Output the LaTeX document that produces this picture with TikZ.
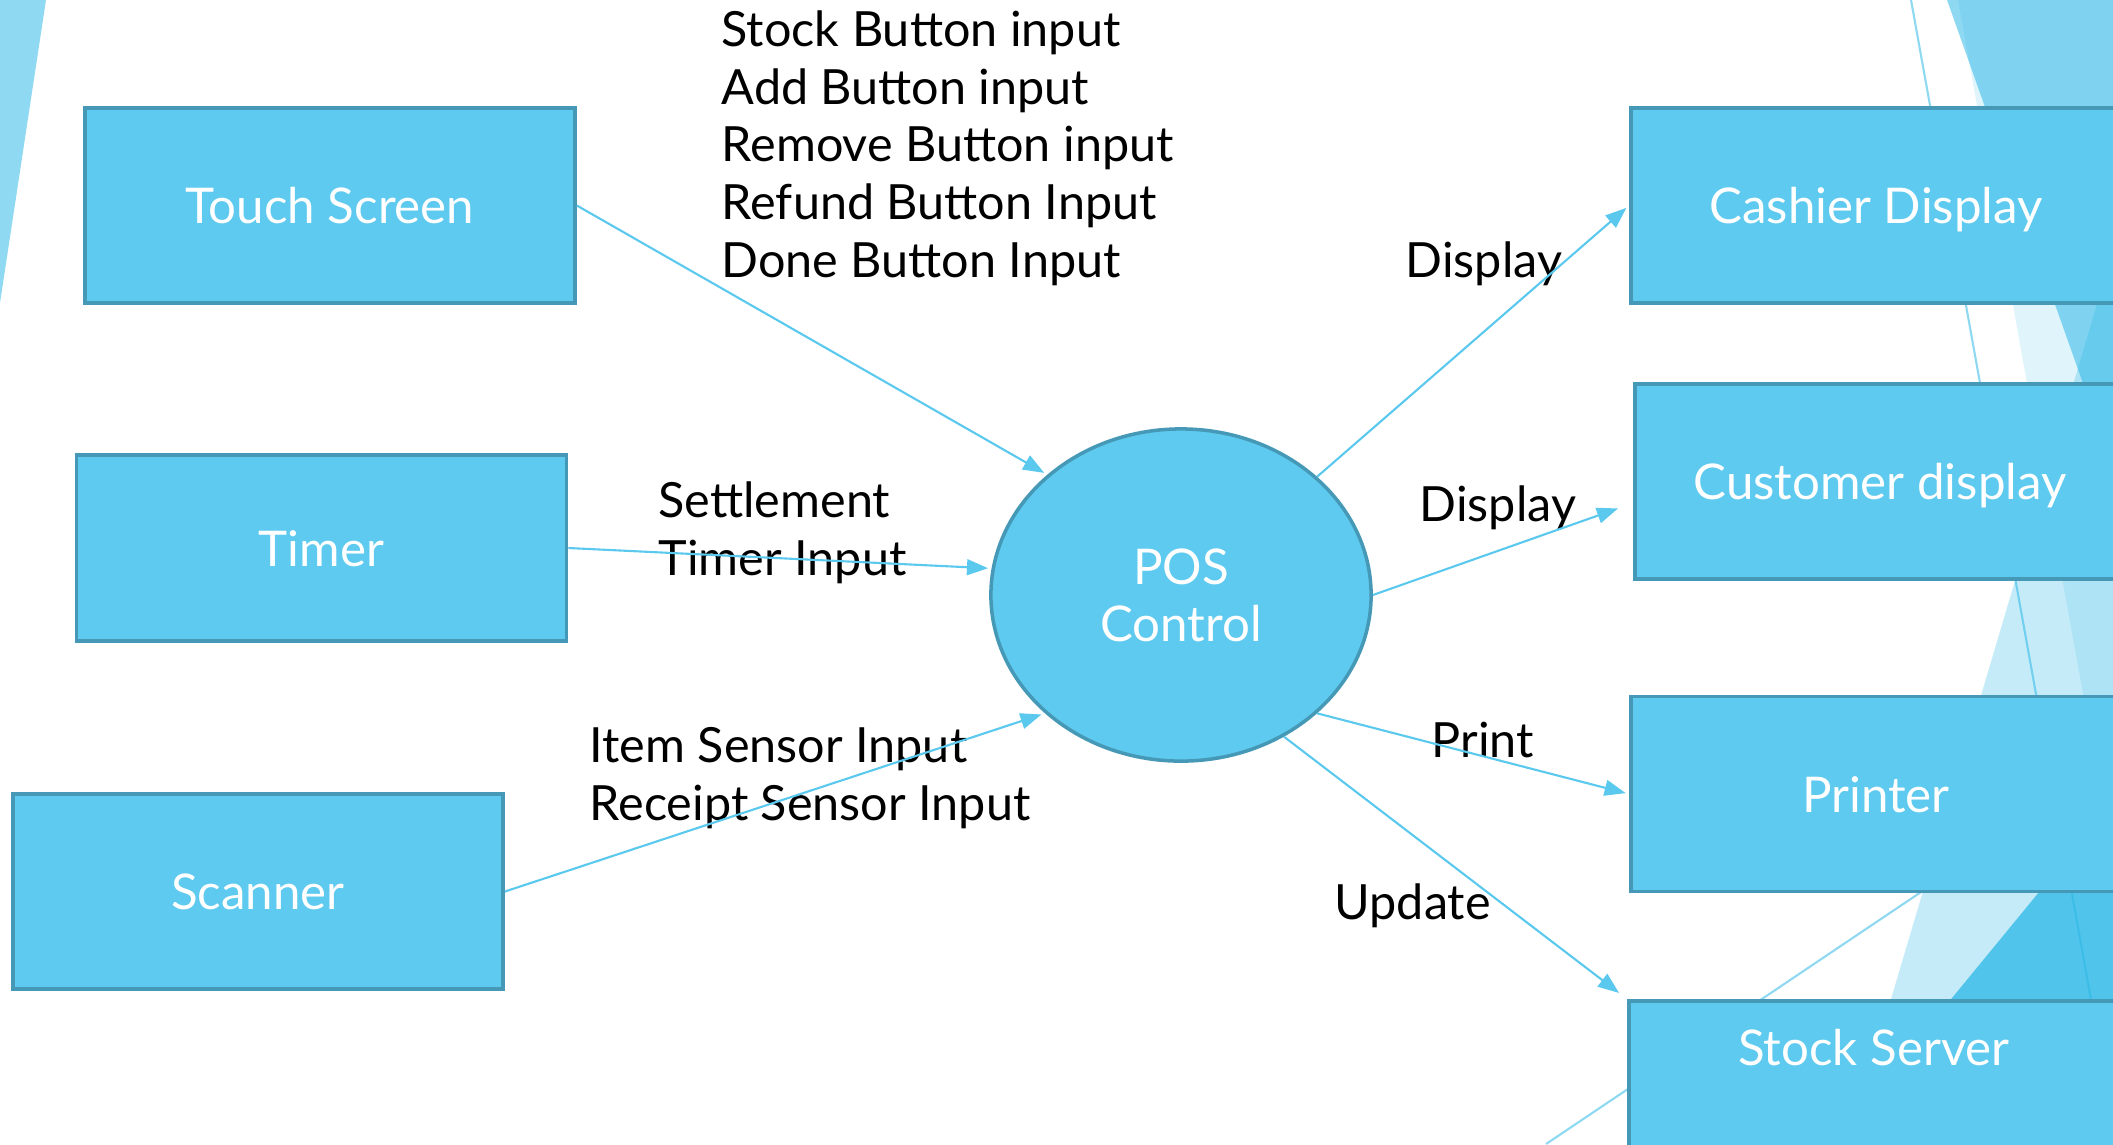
\documentclass[tikz,border=0pt]{standalone}
\usepackage{fontspec}
\setmainfont{Lato}
\usetikzlibrary{arrows.meta,shapes.geometric}
\definecolor{boxfill}{HTML}{5ECAEF}
\definecolor{boxline}{HTML}{4699B6}
\definecolor{flowline}{HTML}{5BC8EE}
\definecolor{facet}{HTML}{29B6E6}

\begin{document}
\begin{tikzpicture}[x=0.01cm,y=-0.01cm]
    \tikzstyle{block}=[draw=boxline,line width=1pt,fill=boxfill,text=white,minimum width=4.9cm,minimum height=1.95cm,text height=10.4pt,text depth=0pt,font=\fontsize{14pt}{16.2pt}\selectfont]
    \tikzstyle{hub}=[draw=boxline,line width=1pt,fill=boxfill,text=white,ellipse,minimum width=3.8cm,minimum height=3.32cm,inner sep=0,align=center,font=\fontsize{14pt}{16.2pt}\selectfont]
    \tikzstyle{flow}=[draw=flowline,line width=0.6pt,-{Triangle[length=6pt,width=4.5pt]},shorten >=1pt]
    \tikzstyle{note}=[anchor=west,align=left,inner sep=0,font=\fontsize{13.8pt}{16.4pt}\selectfont]

    \clip (0,0) rectangle (2113,1144);
    % background facets
    \fill[facet,opacity=0.52] (0,0) -- (46,0) -- (0,303) -- cycle;
    \fill[facet,opacity=0.15] (1958,0) -- (2113,0) -- (2113,861) -- cycle;
    \fill[facet,opacity=0.53] (1947,0) -- (2113,0) -- (2113,468) -- cycle;
    \fill[facet,opacity=0.27] (2113,250) -- (1848,1144) -- (2113,1144) -- cycle;
    \fill[facet,opacity=0.74] (2113,802) -- (1832,1144) -- (2113,1144) -- cycle;
    \draw[facet,opacity=0.53,line width=0.6pt] (1911,0) -- (2117,1144);
    \draw[facet,opacity=0.53,line width=0.6pt] (1546,1144) -- (2113,763);

    \node[block](touch) at (330,205.5){Touch Screen};
    \node[block,minimum height=1.86cm](timer) at (321.5,548){Timer};
    \node[block](scanner) at (258,891.5){Scanner};
    \node[block](cashier) at (1876,205.5){Cashier Display};
    \node[block](customer) at (1880,481.5){Customer display};
    \node[block](printer) at (1876,794){Printer};
    \node[block,anchor=north west,minimum height=0,inner ysep=0.2cm,text height=0.45cm,text depth=1.6cm](stock) at (1627,999){Stock Server};
    \node[hub](pos) at (1181,595){POS\\Control};

    \node[note](buttons) at (721,148){Stock Button input\\Add Button input\\Remove Button input\\Refund Button Input\\Done Button Input};
    \node[note](settle) at (658,533){Settlement\\Timer Input};
    \node[note](sensor) at (589,778){Item Sensor Input\\Receipt Sensor Input};
    \node[note](disp1) at (1405,264){Display};
    \node[note](disp2) at (1419,508){Display};
    \node[note](print) at (1431,740){Print};
    \node[note](update) at (1334,906){Update};

    \draw[flow] (touch.east) -- (pos.138.6);
    \draw[flow] (timer.east) -- (pos.172);
    \draw[flow] (scanner.east) -- (pos.221);
    \draw[flow] (pos.41) -- (cashier.west);
    \draw[flow,shorten >=0.16cm] (pos.0) -- (customer.185);
    \draw[flow] (pos.319) -- (printer.west);
    \draw[flow,shorten >=0.1cm] (pos.306.5) -- (stock.north west);
\end{tikzpicture}
\end{document}
